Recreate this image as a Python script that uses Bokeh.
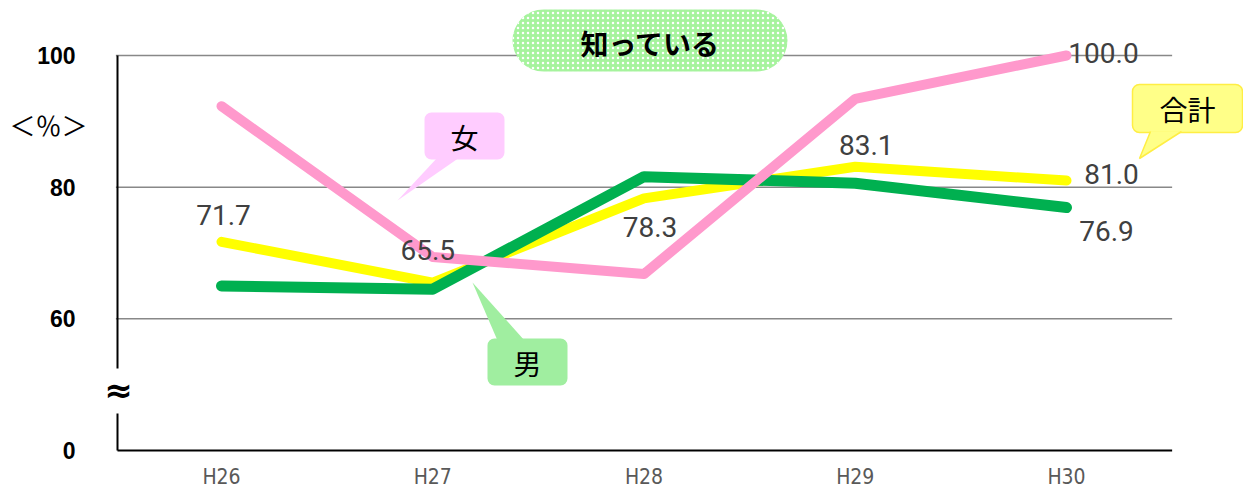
from bokeh.plotting import figure
from bokeh.models import Range1d, FixedTicker, Label, ColumnDataSource
from bokeh.core.properties import value
from bokeh.embed import file_html
from bokeh.resources import INLINE

# ---- data ----
categories = ["H26", "H27", "H28", "H29", "H30"]
total = [71.7, 65.5, 78.3, 83.1, 81.0]
female = [92.3, 69.4, 66.8, 93.4, 100.0]
male = [65.0, 64.5, 81.6, 80.6, 76.9]
total_labels = ["71.7", "65.5", "78.3", "83.1", "81.0"]
female_last_label = "100.0"
male_last_label = "76.9"
y_tick_values = [60, 80, 100]
y_tick_labels = ["60", "80", "100"]
zero_label = "0"
title_text = "知っている"
unit_text = "＜％＞"

# ---- scale helpers (page pixels -> data) for decorations ----
SX = 211.25          # px per category
X_CENTER0 = 221      # page x of first category
SY = 395 / 60.0      # px per % on the upper scale
Y_ZERO_POS = 40      # compressed position of "0" on the broken axis

def px(xp):
    return (xp - X_CENTER0) / SX

def py(yp):
    return 100 - (yp - 55) / SY

X0, X1 = px(0), px(1243)
Y0, Y1 = py(490), py(0)

p = figure(width=1243, height=490, x_range=Range1d(X0, X1), y_range=Range1d(Y0, Y1),
           output_backend="svg", toolbar_location=None,
           min_border_left=0, min_border_right=0, min_border_top=0, min_border_bottom=0)
p.outline_line_color = None
p.grid.visible = False
p.background_fill_color = "white"

# x axis, pinned at the compressed zero line
xs = list(range(len(categories)))
p.xaxis.fixed_location = Y_ZERO_POS
p.xaxis.ticker = FixedTicker(ticks=xs)
p.xaxis.major_label_overrides = {i: c for i, c in zip(xs, categories)}
p.xaxis.axis_line_color = None
p.xaxis.major_tick_line_color = None
p.xaxis.minor_tick_line_color = None
p.xaxis.major_label_text_font = "DejaVu Sans Condensed"
p.xaxis.major_label_text_font_size = "21px"
p.xaxis.major_label_text_color = "#595959"
p.xaxis.major_label_standoff = 8

# y axis (broken: 0 placed at compressed position), pinned at the plot's left edge
p.yaxis.fixed_location = px(110)
p.yaxis.ticker = FixedTicker(ticks=[Y_ZERO_POS] + y_tick_values)
ov = {Y_ZERO_POS: zero_label}
ov.update({v: t for v, t in zip(y_tick_values, y_tick_labels)})
p.yaxis.major_label_overrides = ov
p.yaxis.axis_line_color = None
p.yaxis.major_tick_line_color = None
p.yaxis.minor_tick_line_color = None
p.yaxis.major_label_text_font = "Liberation Sans"
p.yaxis.major_label_text_font_style = "bold"
p.yaxis.major_label_text_font_size = "23px"
p.yaxis.major_label_text_color = "black"
p.yaxis.major_label_standoff = 29

# gridlines
p.segment(x0=[-0.5] * len(y_tick_values), x1=[4.5] * len(y_tick_values),
          y0=y_tick_values, y1=y_tick_values, line_color="#888888", line_width=1.5)
# bottom axis line
p.segment(x0=[px(117)], x1=[4.5], y0=[Y_ZERO_POS], y1=[Y_ZERO_POS], line_color="black", line_width=2)
# left axis line with break
xl = px(117)
p.segment(x0=[xl, xl], x1=[xl, xl], y0=[100, py(413)], y1=[py(368), Y_ZERO_POS],
          line_color="black", line_width=2)

# series lines
p.line(xs, total, line_color="#ffff00", line_width=10, line_cap="round", line_join="round")
p.line(xs, male, line_color="#00b050", line_width=11, line_cap="round", line_join="round")
p.line(xs, female, line_color="#ff99cc", line_width=10, line_cap="round", line_join="round")

# value labels
lab_x = xs + [4, 4]
lab_y = total + [female[-1], male[-1]]
lab_t = total_labels + [female_last_label, male_last_label]
dx = [2, -5, 6, 11, 45, 37, 40]
dy = [-27, -33, 29, -22, -7, -3, 23]
src = ColumnDataSource(dict(x=lab_x, y=lab_y, t=lab_t, dx=dx, dy=dy))
p.text(x="x", y="y", text="t", x_offset="dx", y_offset="dy", source=src,
       text_font=value("Roboto"), text_font_size="28px",
       text_color="#404040", text_align="center", text_baseline="middle")

# ---- title pill ----
p.quad(left=[px(512)], right=[px(787)], top=[py(9)], bottom=[py(71)],
       fill_color="#a6f39d", line_color=None, border_radius=31,
       hatch_pattern="dot", hatch_color="white", hatch_scale=5, hatch_weight=1.6, hatch_alpha=1.0)
p.add_layout(Label(x=px(650), y=py(42), text=title_text, text_font="Noto Sans CJK JP",
                   text_font_style="bold", text_font_size="28px", text_color="black",
                   text_align="center", text_baseline="middle"))

# ---- callout bubbles ----
def bubble(l, r, t, b, tail, fill, text, cx, cy, border=None):
    p.quad(left=[px(l)], right=[px(r)], top=[py(t)], bottom=[py(b)],
           fill_color=fill, line_color=border, line_width=1.5, border_radius=7)
    p.patch([px(a) for a, _ in tail], [py(c) for _, c in tail], fill_color=fill, line_color=None)
    if border:
        p.line([px(tail[0][0]), px(tail[1][0]), px(tail[2][0])],
               [py(tail[0][1]), py(tail[1][1]), py(tail[2][1])], line_color=border, line_width=1.5)
    p.add_layout(Label(x=px(cx), y=py(cy), text=text, text_font="Noto Sans CJK JP",
                       text_font_size="28px", text_color="black",
                       text_align="center", text_baseline="middle"))

bubble(424, 504, 112, 159, [(437, 157), (397, 200), (459, 157)], "#ffccff", "女", 464, 136)
bubble(487, 567, 338, 385, [(497, 340), (472, 282), (524, 340)], "#a0eea0", "男", 527, 362)
bubble(1132, 1242, 84, 132, [(1150, 131), (1139, 158), (1181, 131)], "#ffff88", "合計", 1187, 108,
       border="#ffee44")

# unit text and break mark
p.add_layout(Label(x=px(48), y=py(124), text=unit_text, text_font="Noto Sans CJK JP",
                   text_font_size="26px", text_color="black",
                   text_align="center", text_baseline="middle"))
p.add_layout(Label(x=px(118), y=py(389), text="≈", text_font="DejaVu Sans",
                   text_font_style="bold", text_font_size="34px", text_color="black",
                   text_align="center", text_baseline="middle"))

open("out.html", "w").write(file_html(p, INLINE))
